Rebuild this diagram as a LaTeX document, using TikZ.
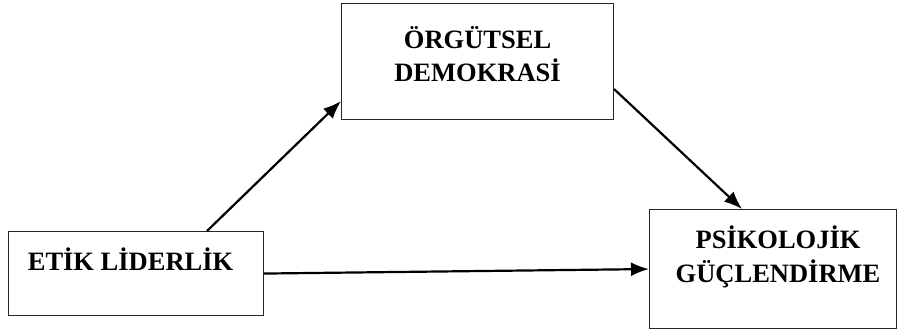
\documentclass[tikz,border=0pt]{standalone}
\usepackage{fontspec}
\setmainfont{Liberation Serif}
\usetikzlibrary{arrows.meta,calc}

\tikzset{
	varbox/.style={draw=black!85, line width=1.1pt, inner sep=0pt, anchor=north west,
		font=\bfseries\fontsize{26.5}{33}\selectfont},
	path/.style={line width=2.2pt, -{Latex[length=18pt,width=14pt]}}
}

\begin{document}
\begin{tikzpicture}[x=1pt,y=-1pt]

		\useasboundingbox (0,0) rectangle (898,332);

		\coordinate (corner1) at (8,231);
		\coordinate (corner2) at (341,3);
		\coordinate (corner3) at (649,209);

		\node (etik)  at (corner1) [varbox]
			{\parbox[c][84pt][t]{255pt}{\centering\rule{0pt}{39pt}\hspace*{-11pt}ETİK LİDERLİK}};
		\node (orgut) at (corner2) [varbox]
			{\parbox[c][116pt][t]{272pt}{\centering\rule{0pt}{45pt}ÖRGÜTSEL\\DEMOKRASİ}};
		\node (psiko) at (corner3) [varbox]
			{\parbox[c][119pt][t]{247pt}{\centering\fontsize{26.5}{34}\selectfont
				\rule{0pt}{39pt}\hspace*{10pt}PSİKOLOJİK\\\hspace*{10pt}GÜÇLENDİRME}};

		\draw[path] ([xshift=199pt]etik.north west) -- ([yshift=19pt]orgut.south west);
		\draw[path] ([yshift=31pt]orgut.south east) -- ([xshift=93pt]psiko.north west);
		\draw[path] (etik.east) -- (psiko.west);

	\end{tikzpicture}
\end{document}
